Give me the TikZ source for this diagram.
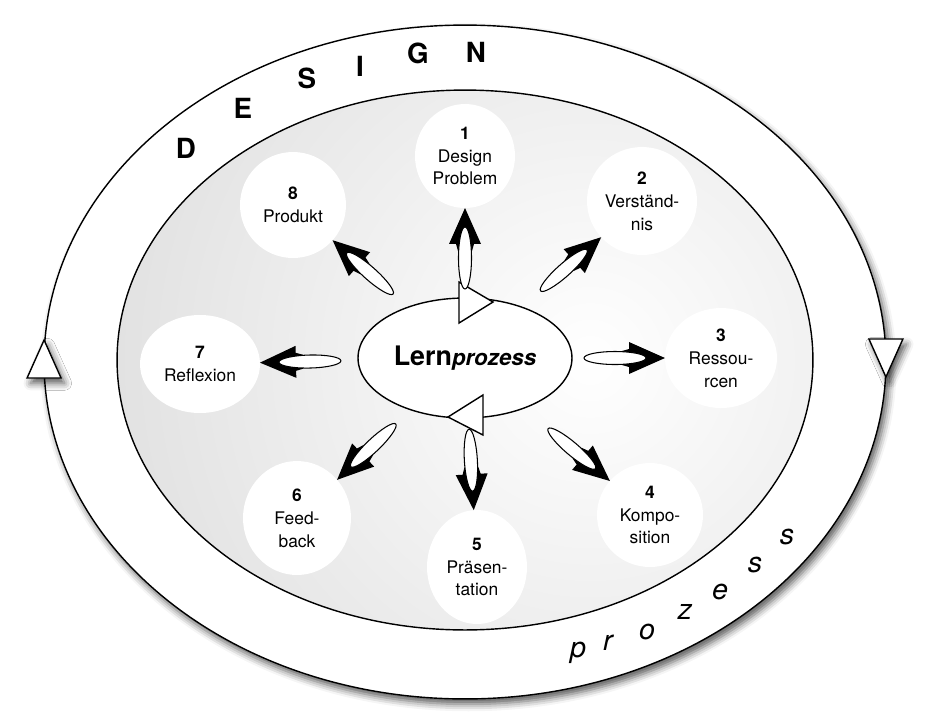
\documentclass[tikz,border=0pt]{standalone}
\usepackage{fontspec}
\setmainfont{TeX Gyre Heros}
\usepackage{tikz}
\usetikzlibrary{shapes.geometric,calc,shadows.blur}
\definecolor{dfgray}{gray}{0.76}
\tikzstyle{ring} = [ellipse, draw=black, line width=0.8pt, fill=white, inner sep=0pt, outer sep=0pt]
\tikzstyle{stage} = [ellipse, fill=white, inner sep=0pt, outer sep=0pt, align=center, font=\fontsize{9.9}{13}\selectfont]
\tikzstyle{marker} = [draw=black, line width=0.8pt, fill=white, line join=miter]
\tikzstyle{softshadow} = [blur shadow={shadow xshift=2pt, shadow yshift=-3pt, shadow blur radius=4pt, shadow opacity=65}]
\tikzstyle{bigletter} = [inner sep=0pt, font=\fontsize{15.8}{16}\selectfont\bfseries]
\tikzstyle{smallletter} = [inner sep=0pt, font=\fontsize{16.3}{17}\selectfont\itshape]
\tikzset{flame/.pic={
  \fill[black, line join=round] (0,0) -- (-36,16) -- (-36,9) -- (-43,7) -- (-43,-7) -- (-36,-9) -- (-36,-16) -- cycle;
  \draw[fill=white, line width=0.6pt] (-50,0) ellipse (31 and 6.5);
}}

\begin{document}
\begin{tikzpicture}[x=0.02cm, y=0.02cm]
\useasboundingbox (-465,-363) rectangle (467,362);
\node[ring, softshadow, minimum width=16.84cm, minimum height=13.48cm] (outer) at (0,0) {};
\node[ring, minimum width=13.92cm, minimum height=10.8cm,
  path picture={\shade[inner color=white, outer color=dfgray] ($(path picture bounding box.center)+(125,0)$) circle (1000);}] (disk) at (0,2) {};

\draw[marker, softshadow] ($(outer.west)+(0,22)$) -- ($(outer.west)+(-17,-16)$) -- ($(outer.west)+(17,-16)$) -- cycle;
\draw[marker, softshadow] ($(outer.east)+(0,-15)$) -- ($(outer.east)+(-17,23)$) -- ($(outer.east)+(17,23)$) -- cycle;

\node[stage, minimum width=2.0cm, minimum height=2.08cm] (s1) at (0,206) {\textbf{1}\\Design\\Problem};
\node[stage, minimum width=2.2cm, minimum height=2.16cm] (s2) at (177,161) {\textbf{2}\\Verständ-\\nis};
\node[stage, minimum width=2.24cm, minimum height=2.0cm] (s3) at (256,4) {\textbf{3}\\Ressou-\\rcen};
\node[stage, minimum width=2.12cm, minimum height=2.08cm] (s4) at (185,-153) {\textbf{4}\\Kompo-\\sition};
\node[stage, minimum width=2.0cm, minimum height=2.28cm] (s5) at (12,-205) {\textbf{5}\\Präsen-\\tation};
\node[stage, minimum width=2.16cm, minimum height=2.28cm] (s6) at (-168,-156) {\textbf{6}\\Feed-\\back};
\node[stage, minimum width=2.4cm, minimum height=1.96cm] (s7) at (-265,-2) {\textbf{7}\\Reflexion};
\node[stage, minimum width=2.12cm, minimum height=2.12cm] (s8) at (-172,157) {\textbf{8}\\Produkt};

\node[ring, minimum width=4.28cm, minimum height=2.4cm] (lern) at (0,4)
  {\fontsize{15.3}{16}\selectfont\bfseries Lern{\fontsize{12.7}{14}\selectfont\itshape prozess}};
\draw[marker] ($(lern.north)+(28,-4)$) -- ($(lern.north)+(-6,16)$) -- ($(lern.north)+(-6,-25)$) -- cycle;
\draw[marker] ($(lern.south)+(-17,1)$) -- ($(lern.south)+(18,23)$) -- ($(lern.south)+(18,-17)$) -- cycle;

\foreach \i in {1,...,8}
  \path (lern) -- pic[pos=1, sloped, allow upside down] {flame} (s\i);

\foreach \ch/\px/\py [count=\i] in {D/-279/214, E/-222/254, S/-158/284, I/-105/296, G/-47/309, N/11/310}
  \node[bigletter] (dsg\i) at (\px,\py) {\ch};
\foreach \ch/\px/\py [count=\i] in {p/113/-291, r/143/-281, o/182/-270, z/220/-250, e/255/-230, s/290/-203, s/322/-175}
  \node[smallletter] (prz\i) at (\px,\py) {\ch};
\end{tikzpicture}
\end{document}
